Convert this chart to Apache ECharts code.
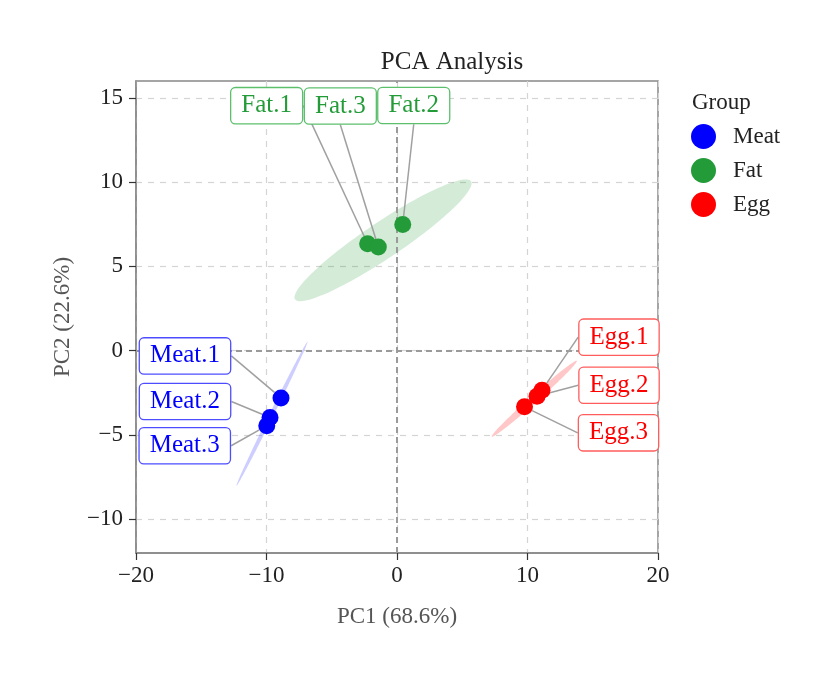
<!DOCTYPE html>
<html>
<head>
<meta charset="utf-8">
<script src="https://cdn.jsdelivr.net/npm/echarts@6/dist/echarts.min.js"></script>
<style>
html, body { margin: 0; padding: 0; background: #fff; }
#chart-main { width: 823px; height: 676px; }
</style>
</head>
<body>
<div id="chart-main"></div>
<script>
// data
var groupNames = ['Meat', 'Fat', 'Egg'];
var sampleNames = [['Meat.1', 'Meat.2', 'Meat.3'], ['Fat.1', 'Fat.2', 'Fat.3'], ['Egg.1', 'Egg.2', 'Egg.3']];
var pc1Values = [[-8.89, -9.73, -9.98], [-2.25, 0.44, -1.43], [11.11, 10.73, 9.77]];
var pc2Values = [[-2.80, -3.96, -4.45], [6.35, 7.49, 6.15], [-2.34, -2.70, -3.33]];
// confidence ellipses: centre, major and minor half-axis vectors (data units)
var ellipseCenter = [[-9.58, -3.74], [-1.07, 6.55], [10.52, -2.85]];
var ellipseMajor = [[2.72, 4.27], [6.74, 3.50], [3.26, 2.25]];
var ellipseMinor = [[0.14, -0.06], [0.77, -0.89], [0.19, -0.16]];
var yTickValues = [-10, -5, 0, 5, 10, 15];

// styling / layout
var pointColors = ['#0000ff', '#239b38', '#ff0000'];
var labelBorders = ['#4d4dff', '#5cbf6c', '#ff5c5c'];
var ellipseFills = ['rgba(90,90,255,0.3)', 'rgba(35,155,56,0.2)', 'rgba(255,70,70,0.3)'];
var labelShift = [
    [[-96, -42], [-85, -16], [-82, 20]],
    [[-101, -138], [11, -119], [-38, -141]],
    [[77, -53], [82, -11], [94, 26]]
];
var fontName = "'Liberation Serif', 'DejaVu Serif', serif";

function minusSign(v) {
    return String(v).replace('-', '\u2212');
}

var series = [];

groupNames.forEach(function (g, gi) {
    series.push({
        name: g + ' ellipse',
        type: 'custom',
        z: 1,
        silent: true,
        data: [ellipseCenter[gi]],
        renderItem: function (params, api) {
            var c = ellipseCenter[gi], a = ellipseMajor[gi], b = ellipseMinor[gi];
            var pts = [];
            for (var k = 0; k < 120; k++) {
                var t = k / 120 * Math.PI * 2;
                var cs = Math.cos(t), sn = Math.sin(t);
                pts.push(api.coord([c[0] + a[0] * cs + b[0] * sn, c[1] + a[1] * cs + b[1] * sn]));
            }
            return {
                type: 'polygon',
                shape: { points: pts },
                style: { fill: ellipseFills[gi], stroke: null }
            };
        }
    });
});

series.push({
    name: 'zero',
    type: 'line',
    data: [],
    z: 2,
    markLine: {
        z: 2,
        silent: true,
        symbol: ['none', 'none'],
        label: { show: false },
        lineStyle: { color: '#9a9a9a', width: 2, type: [6, 4] },
        data: [{ xAxis: 0 }, { yAxis: 0 }]
    }
});

groupNames.forEach(function (g, gi) {
    var pts = pc1Values[gi].map(function (x, i) {
        return { name: sampleNames[gi][i], value: [x, pc2Values[gi][i]] };
    });
    series.push({
        name: g,
        type: 'scatter',
        z: 3,
        symbolSize: 17,
        itemStyle: { color: pointColors[gi], opacity: 1 },
        data: pts,
        label: {
            show: true,
            formatter: '{b}',
            fontFamily: fontName,
            fontSize: 25,
            color: pointColors[gi],
            backgroundColor: '#fff',
            borderColor: labelBorders[gi],
            borderWidth: 1.3,
            borderRadius: 4,
            padding: [5, 10]
        },
        labelLine: {
            show: true,
            lineStyle: { color: '#a0a0a0', width: 1.5 }
        },
        labelLayout: function (params) {
            var s = labelShift[gi][params.dataIndex];
            return {
                x: params.rect.x + params.rect.width / 2 + s[0],
                y: params.rect.y + params.rect.height / 2 + s[1],
                align: 'center',
                verticalAlign: 'middle',
                hideOverlap: false
            };
        }
    });
});

var option = {
    animation: false,
    backgroundColor: '#fff',
    textStyle: { fontFamily: fontName },
    title: [
        {
            text: 'PCA Analysis',
            left: 447,
            top: 45,
            textAlign: 'center',
            textStyle: { fontFamily: fontName, fontSize: 25, fontWeight: 'normal', color: '#222' }
        },
        {
            text: 'Group',
            left: 687,
            top: 86,
            textStyle: { fontFamily: fontName, fontSize: 23, fontWeight: 'normal', color: '#222' }
        }
    ],
    legend: {
        data: groupNames,
        orient: 'vertical',
        left: 686,
        top: 119,
        icon: 'circle',
        itemWidth: 25,
        itemHeight: 25,
        itemGap: 9,
        textStyle: { fontFamily: fontName, fontSize: 23, color: '#222', padding: [0, 0, 0, 12] }
    },
    grid: {
        left: 136,
        right: 165,
        top: 81,
        bottom: 123,
        show: true,
        borderColor: '#888',
        borderWidth: 1.5
    },
    xAxis: {
        type: 'value',
        min: -20,
        max: 20,
        interval: 10,
        name: 'PC1 (68.6%)',
        nameLocation: 'middle',
        nameGap: 52,
        nameTextStyle: { fontFamily: fontName, fontSize: 23, color: '#555' },
        axisLine: { show: true, onZero: false, lineStyle: { color: '#888', width: 1.5 } },
        axisTick: { show: true, length: 7, lineStyle: { color: '#333', width: 1.2 } },
        axisLabel: { fontSize: 23, color: '#222', margin: 11, formatter: minusSign },
        splitLine: { show: true, lineStyle: { color: '#d4d4d4', type: [6, 6], width: 1.2 } }
    },
    yAxis: {
        type: 'value',
        min: -12,
        max: 16,
        splitNumber: 6,
        name: 'PC2 (22.6%)',
        nameLocation: 'middle',
        nameGap: 62,
        nameTextStyle: { fontFamily: fontName, fontSize: 23, color: '#555' },
        axisLine: { show: true, onZero: false, lineStyle: { color: '#888', width: 1.5 } },
        axisTick: { show: true, length: 7, customValues: yTickValues, lineStyle: { color: '#333', width: 1.2 } },
        axisLabel: { fontSize: 23, color: '#222', margin: 13, customValues: yTickValues, formatter: minusSign },
        splitLine: { show: true, lineStyle: { color: '#d4d4d4', type: [6, 6], width: 1.2 } }
    },
    series: series
};

var myChart = echarts.init(document.getElementById('chart-main'));
myChart.setOption(option);
</script>
</body>
</html>
